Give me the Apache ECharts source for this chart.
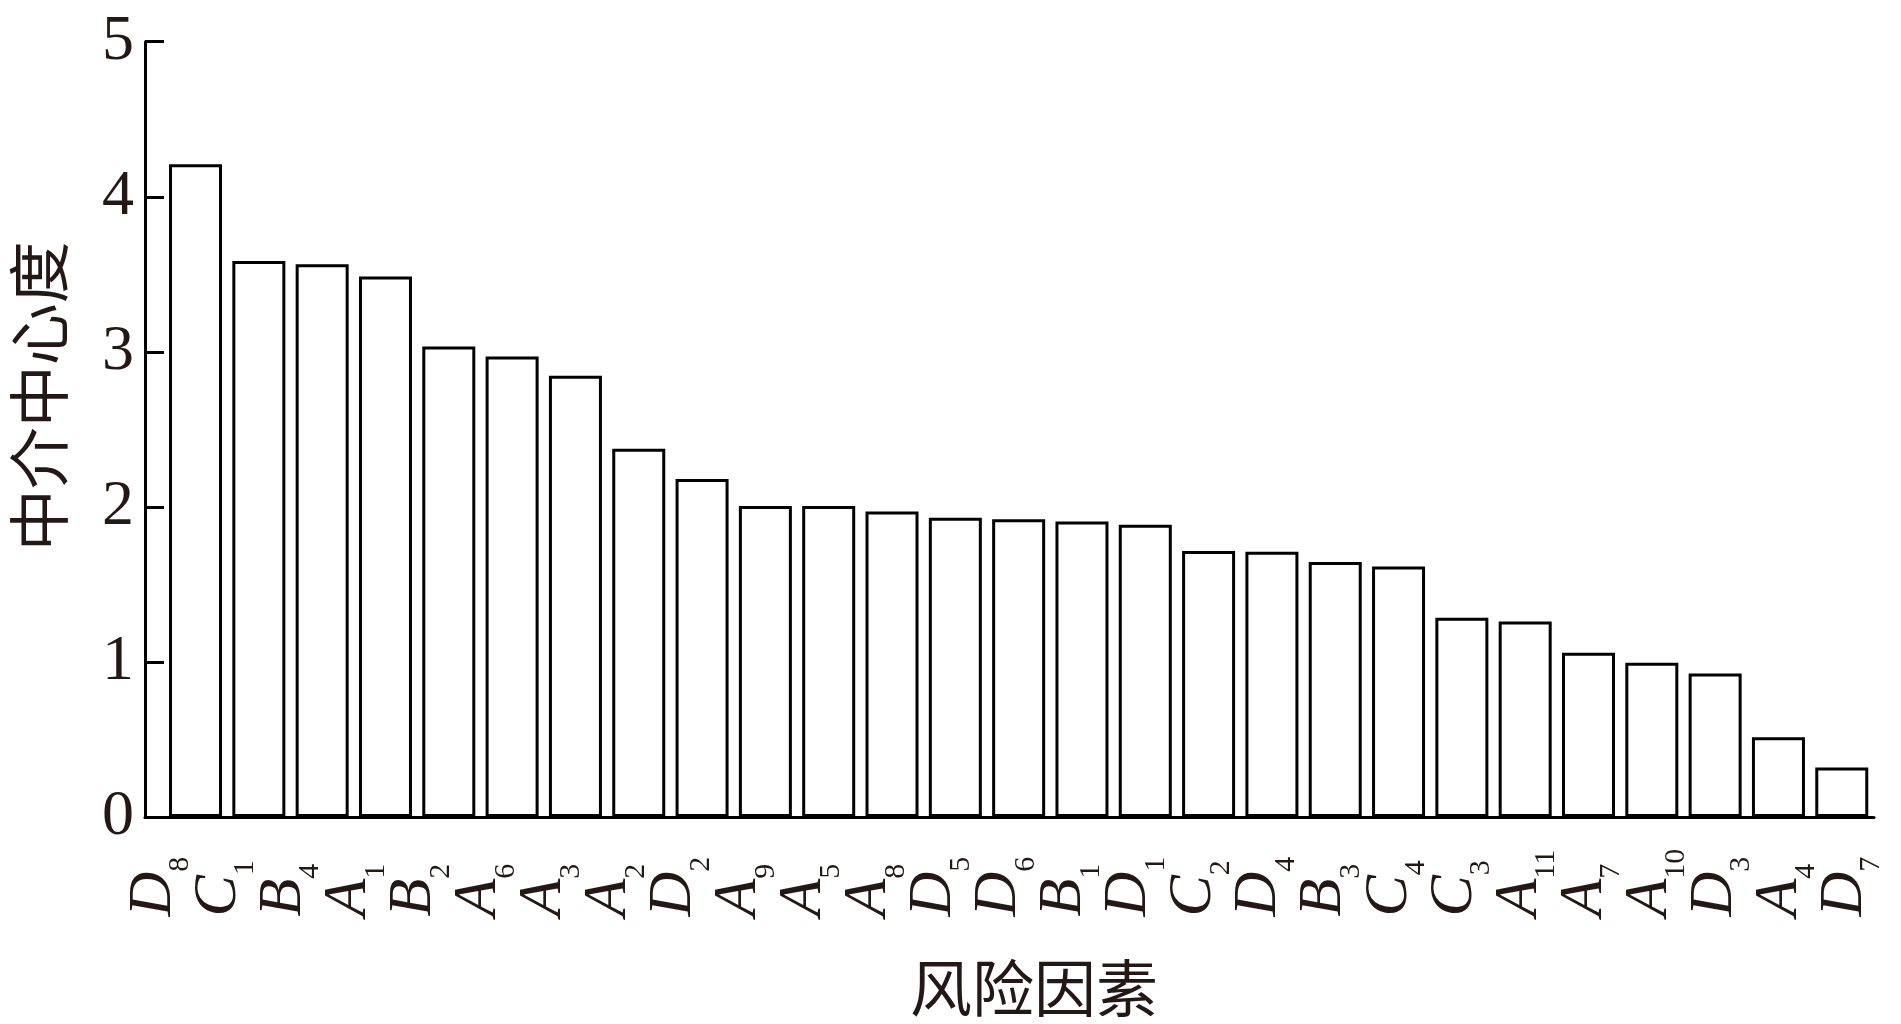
<!DOCTYPE html>
<html>
<head>
<meta charset="utf-8">
<title>中介中心度</title>
<script src="https://cdn.jsdelivr.net/npm/echarts@6.0.0/dist/echarts.min.js"></script>
<style>
  html, body { margin: 0; padding: 0; background: #fff; }
  #chart { width: 1901px; height: 1024px; }
</style>
</head>
<body>
<div id="chart"></div>
<script>
// risk factors, sorted by betweenness centrality
const factors = ['D8', 'C1', 'B4', 'A1', 'B2', 'A6', 'A3', 'A2', 'D2', 'A9', 'A5', 'A8', 'D5', 'D6',
  'B1', 'D1', 'C2', 'D4', 'B3', 'C4', 'C3', 'A11', 'A7', 'A10', 'D3', 'A4', 'D7']
const centrality = [4.21, 3.585, 3.565, 3.485, 3.035, 2.97, 2.845, 2.375, 2.18, 2.005, 2.005, 1.97, 1.93, 1.92,
  1.905, 1.885, 1.715, 1.71, 1.645, 1.615, 1.285, 1.26, 1.06, 0.995, 0.925, 0.515, 0.32]
const yTicks = [0, 1, 2, 3, 4, 5]

const ink = '#231815'
const serif = '"Liberation Serif", "Times New Roman", serif'
const cjk = '"Noto Sans CJK SC", sans-serif'

const chart = echarts.init(document.getElementById('chart'))

const option = {
  animation: false,
  backgroundColor: '#fff',
  grid: [
    // bars
    { left: 143, right: 27, top: 41.7, bottom: 205.4 },
    // factor labels sit on a slightly wider spacing than the bars
    { left: 121, right: 24, top: 41.7, bottom: 205.4 },
  ],
  xAxis: [
    {
      type: 'value',
      gridIndex: 0,
      min: -0.798,
      max: 26.509,
      axisLine: { show: true, onZero: false, lineStyle: { color: '#000', width: 3 } },
      axisTick: { show: false },
      axisLabel: { show: false },
      splitLine: { show: false },
      name: '风险因素',
      nameLocation: 'middle',
      nameGap: 140,
      nameTextStyle: { fontFamily: cjk, fontSize: 62, color: ink, padding: [0, 0, 0, 49] },
    },
    {
      type: 'category',
      gridIndex: 1,
      data: factors,
      axisLine: { show: false },
      axisTick: { show: false },
      axisLabel: {
        interval: 0,
        rotate: 90,
        align: 'left',
        margin: 98,
        formatter: (v) => {
          const m = v.match(/^([A-Z])(\d+)$/)
          return '{i|' + m[1] + '}{s|' + m[2] + '}'
        },
        rich: {
          i: { fontFamily: serif, fontStyle: 'italic', fontSize: 62, lineHeight: 62, verticalAlign: 'top', color: ink },
          s: { fontFamily: serif, fontSize: 30, lineHeight: 30, padding: [43, 0, 0, 0], verticalAlign: 'top', color: ink },
        },
      },
    },
  ],
  yAxis: [
    {
      type: 'value',
      gridIndex: 0,
      min: yTicks[0],
      max: yTicks[yTicks.length - 1],
      interval: 1,
      axisLine: { show: true, onZero: false, lineStyle: { color: '#000', width: 3 } },
      axisTick: { show: true, inside: true, length: 19, lineStyle: { color: '#000', width: 3 } },
      axisLabel: {
        fontFamily: serif,
        fontSize: 64,
        color: ink,
        margin: 11,
        padding: [0, 0, 20, 0],
      },
      splitLine: { show: false },
      name: '中介中心度',
      nameLocation: 'middle',
      nameGap: 75,
      nameTextStyle: { fontFamily: cjk, fontSize: 62, color: ink, padding: [0, 0, 0, 66] },
    },
    { type: 'value', gridIndex: 1, show: false },
  ],
  series: [
    {
      type: 'bar',
      xAxisIndex: 0,
      yAxisIndex: 0,
      barWidth: 53,
      itemStyle: { color: '#fff', borderColor: '#000', borderWidth: 3 },
      data: factors.map((f, i) => [i, centrality[i]]),
    },
  ],
}

chart.setOption(option)
window.addEventListener('resize', () => chart.resize())
</script>
</body>
</html>
